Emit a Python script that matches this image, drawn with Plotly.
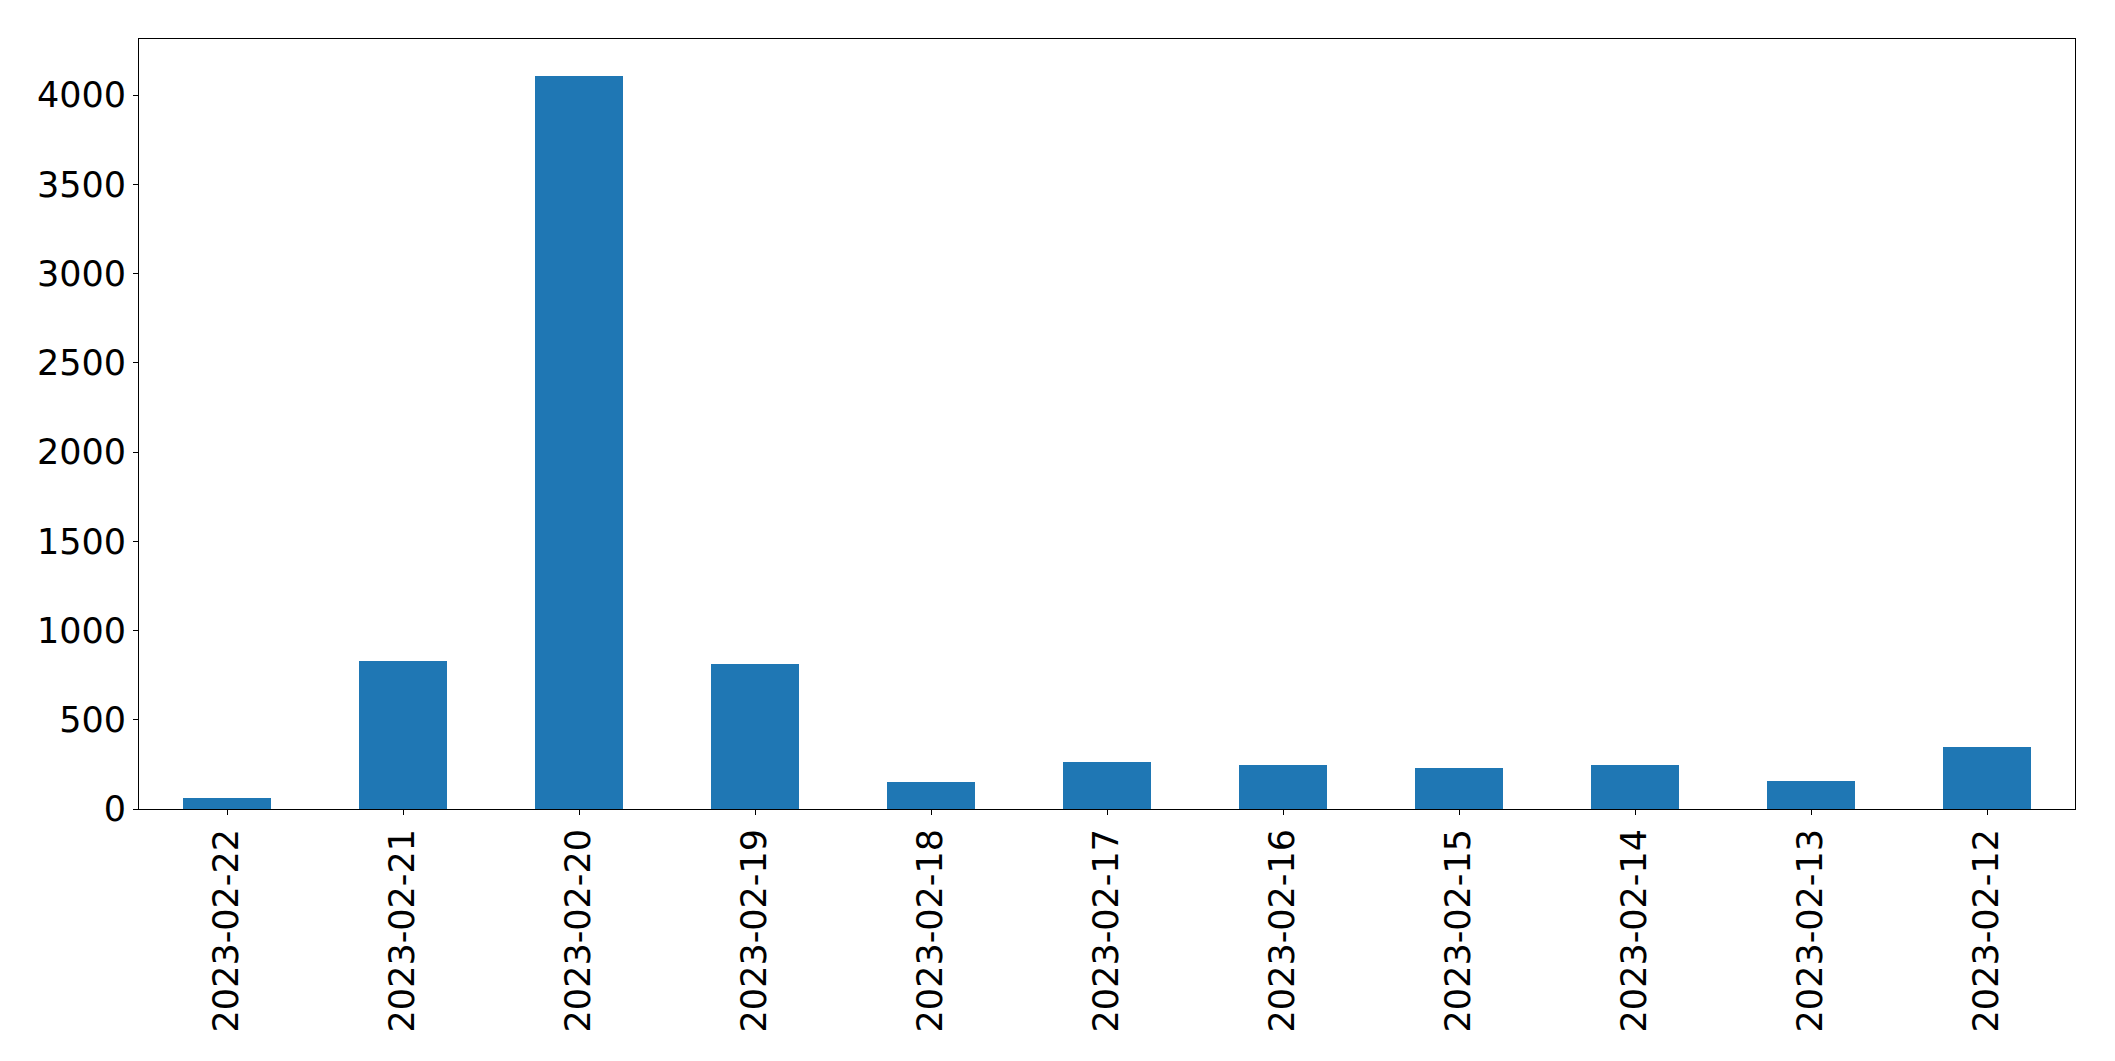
import plotly.graph_objects as go

categories = ["2023-02-22", "2023-02-21", "2023-02-20", "2023-02-19", "2023-02-18",
              "2023-02-17", "2023-02-16", "2023-02-15", "2023-02-14", "2023-02-13", "2023-02-12"]
values = [63, 831, 4108, 812, 153, 265, 248, 231, 248, 159, 349]
y_ticks = [0, 500, 1000, 1500, 2000, 2500, 3000, 3500, 4000]

fig = go.Figure(go.Bar(x=categories, y=values, width=0.5,
                       marker=dict(color="#1f77b4", line=dict(width=0))))

font = dict(family="DejaVu Sans", size=35, color="black")
fig.update_layout(
    width=2115, height=1061,
    margin=dict(l=131, r=48, t=31, b=260),
    paper_bgcolor="white", plot_bgcolor="white",
    showlegend=False, bargap=0,
    font=font,
)
fig.update_xaxes(type="category", range=[-0.5, 10.5], tickangle=-90,
                 showline=True, mirror=True, linecolor="black", linewidth=1,
                 ticks="outside", ticklen=5, tickcolor="black", tickwidth=1,
                 showgrid=False, zeroline=False, tickfont=font)
fig.update_yaxes(range=[0, 4314], tickvals=y_ticks, ticktext=[str(v) for v in y_ticks],
                 showline=True, mirror=True, linecolor="black", linewidth=1,
                 ticks="outside", ticklen=5, tickcolor="black", tickwidth=1,
                 showgrid=False, zeroline=False, tickfont=font)

fig.write_html("out.html")
